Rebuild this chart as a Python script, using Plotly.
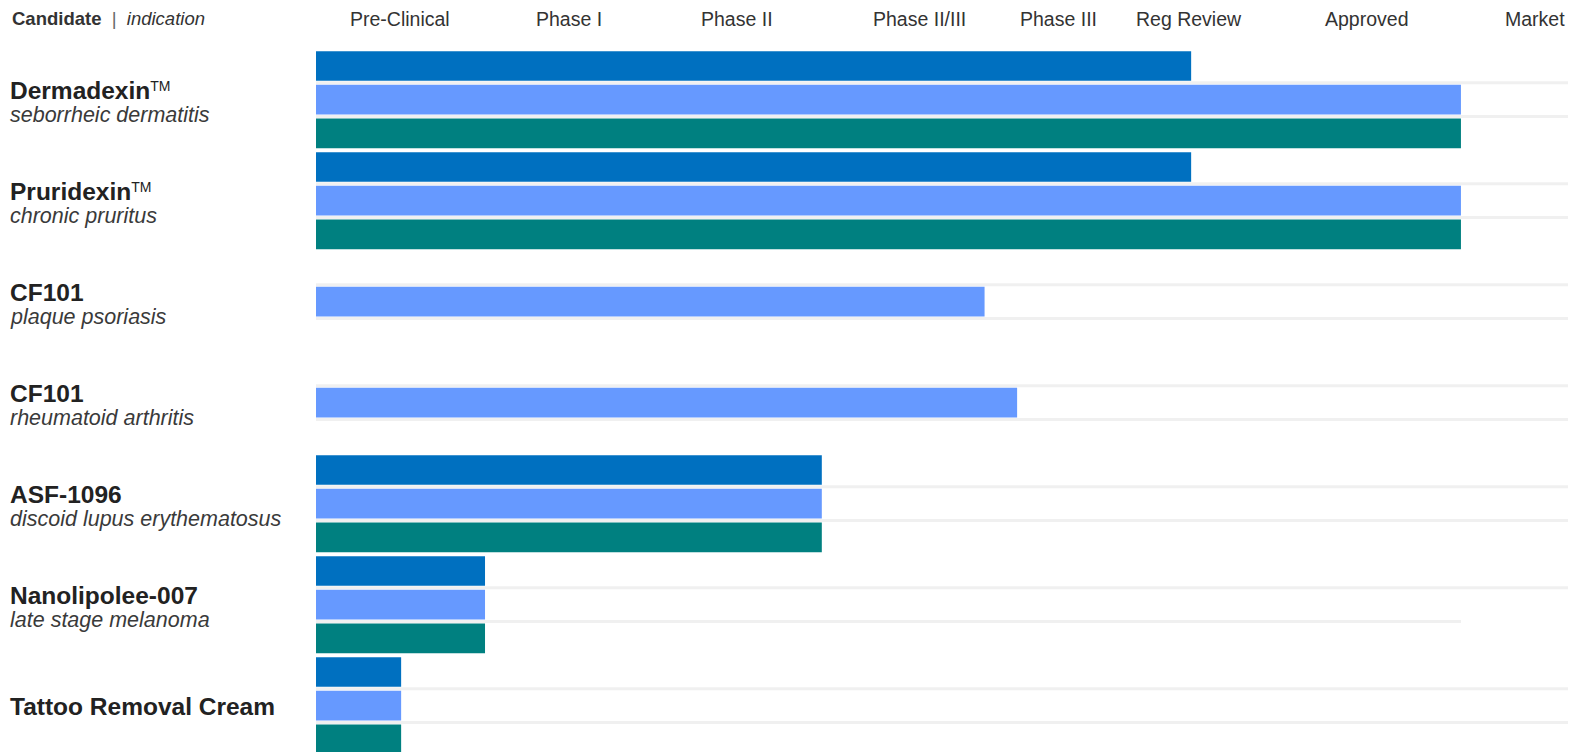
import plotly.graph_objects as go

# ---------------- data ----------------
candidates = ["Dermadexin", "Pruridexin", "CF101", "CF101", "ASF-1096",
              "Nanolipolee-007", "Tattoo Removal Cream"]
trademark = [True, True, False, False, False, False, False]
indications = ["seborrheic dermatitis", "chronic pruritus", "plaque psoriasis",
               "rheumatoid arthritis", "discoid lupus erythematosus",
               "late stage melanoma", ""]
# progress along the pipeline track (0 = start of Pre-Clinical, 100 = right edge)
series_dark = [69.9, 69.9, None, None, 40.4, 13.5, 6.8]
series_light = [91.45, 91.45, 53.4, 56.0, 40.4, 13.5, 6.8]
series_teal = [91.45, 91.45, None, None, 40.4, 13.5, 6.8]
stages = ["Pre-Clinical", "Phase I", "Phase II", "Phase II/III", "Phase III",
          "Reg Review", "Approved", "Market"]
stage_centers = [6.7, 20.2, 33.6, 48.2, 59.3, 69.7, 83.9, 97.4]
# right end of the two light separators in each group
grid_ends = [[100, 100], [100, 100], [100, 100], [100, 100], [100, 100],
             [100, 91.45], [100, 100]]

W, H = 1569, 752
LEFT = 316
SLOT_PX = 101 / 3.0
FIRST_CENTER_PX = 66

colors = ["#0070C0", "#6699FF", "#008080"]
series = [series_dark, series_light, series_teal]

fig = go.Figure()
for k, (vals, col) in enumerate(zip(series, colors)):
    ys = [g * 3 + k for g in range(len(candidates))]
    fig.add_trace(go.Bar(
        x=vals, y=ys, base=0, orientation="h",
        marker=dict(color=col, line=dict(width=0)),
        width=0.88, hoverinfo="skip", showlegend=False,
    ))

shapes = []
for g, ends in enumerate(grid_ends):
    for j, xe in enumerate(ends):
        yb = g * 3 + j + 0.5
        shapes.append(dict(type="line", xref="x", yref="y", x0=0, x1=xe,
                           y0=yb, y1=yb, layer="below",
                           line=dict(color="#F0F0F0", width=3)))

annotations = []
font_family = "Liberation Sans, Arial, sans-serif"
PX_W = W - LEFT - 1


def px_to_paper_x(px):
    return (px - LEFT) / PX_W


for g, (name, tm, ind) in enumerate(zip(candidates, trademark, indications)):
    label = f"<b>{name}</b>" + ("<span style='font-size:20px'><sup>TM</sup></span>" if tm else "")
    if ind:
        annotations.append(dict(x=px_to_paper_x(8), xref="paper", y=g * 3 + 1, yref="y",
                                text=label, showarrow=False, xanchor="left",
                                yanchor="middle", yshift=9,
                                font=dict(family=font_family, size=24.5, color="#222222")))
        annotations.append(dict(x=px_to_paper_x(8), xref="paper", y=g * 3 + 1, yref="y",
                                text=f"<i>{ind}</i>", showarrow=False, xanchor="left",
                                yanchor="middle", yshift=-15,
                                font=dict(family=font_family, size=21.5, color="#3a3a3a")))
    else:
        annotations.append(dict(x=px_to_paper_x(8), xref="paper", y=g * 3 + 1, yref="y",
                                text=label, showarrow=False, xanchor="left",
                                yanchor="middle", yshift=-1,
                                font=dict(family=font_family, size=24.5, color="#222222")))

for s, xc in zip(stages, stage_centers):
    annotations.append(dict(x=xc, xref="x", y=1 - 19 / H, yref="paper",
                            text=s, showarrow=False, xanchor="center", yanchor="middle",
                            font=dict(family=font_family, size=19.5, color="#333333")))

annotations.append(dict(x=px_to_paper_x(10), xref="paper", y=1 - 19 / H, yref="paper",
                        text="<b>Candidate</b>&nbsp;&nbsp;<span style='color:#666'>|</span>&nbsp;&nbsp;<i>indication</i>",
                        showarrow=False, xanchor="left", yanchor="middle",
                        font=dict(family=font_family, size=18.5, color="#333333")))

y_top = -FIRST_CENTER_PX / SLOT_PX
y_bot = (H - FIRST_CENTER_PX) / SLOT_PX

fig.update_layout(
    width=W, height=H,
    margin=dict(l=LEFT, r=1, t=0, b=0),
    paper_bgcolor="white", plot_bgcolor="white",
    barmode="overlay",
    xaxis=dict(range=[0, 100], showgrid=False, zeroline=False, showticklabels=False,
               fixedrange=True),
    yaxis=dict(range=[y_bot, y_top], showgrid=False, zeroline=False,
               showticklabels=False, fixedrange=True),
    shapes=shapes, annotations=annotations,
)

fig.write_html("out.html", config={"displayModeBar": False})
